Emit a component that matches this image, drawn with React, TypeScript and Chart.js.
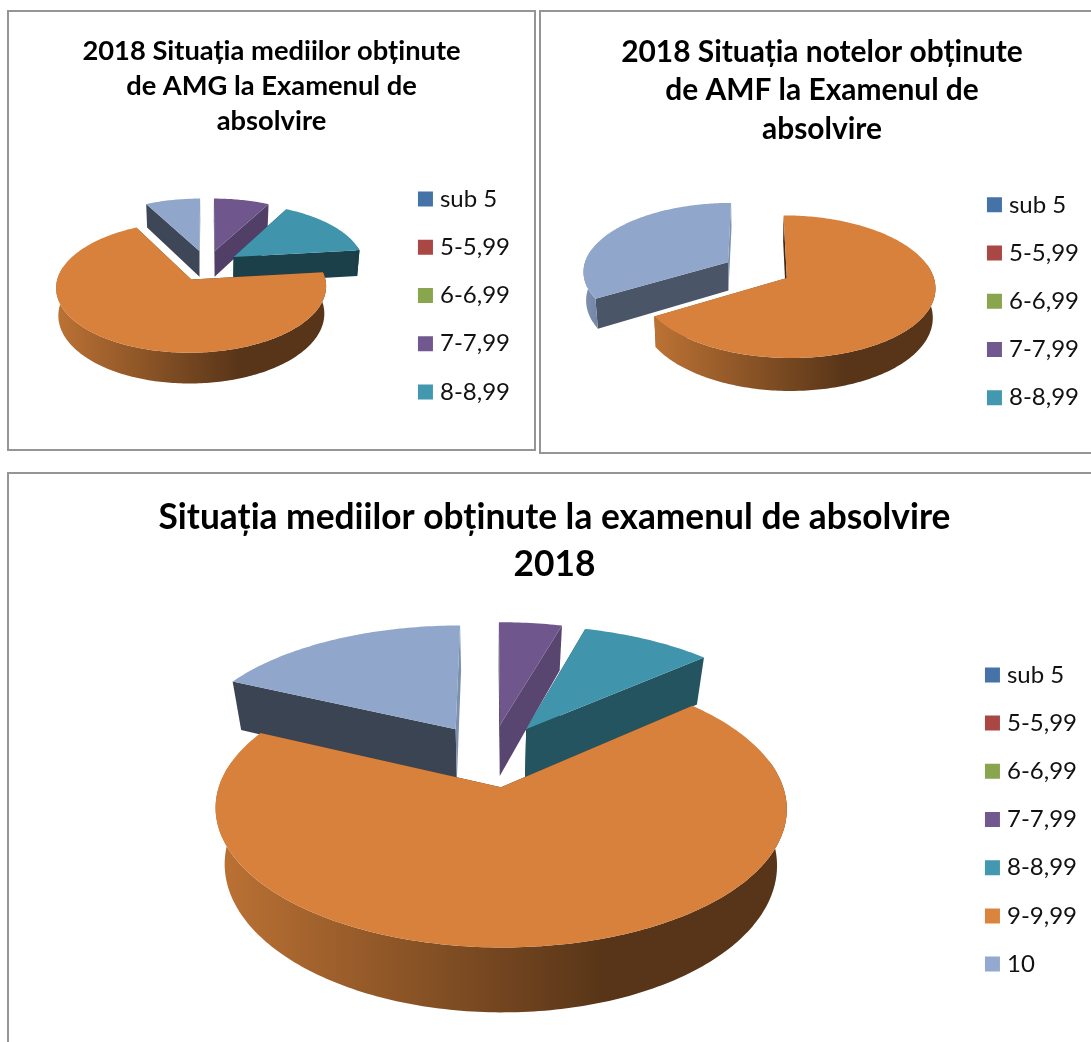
import React, { useEffect, useRef } from "react";
import { Chart, registerables } from "chart.js";

Chart.register(...registerables);

const categories = ["sub 5", "5-5,99", "6-6,99", "7-7,99", "8-8,99", "9-9,99", "10"];
const amgValues = [0, 0, 0, 7.8, 15.4, 69.1, 7.7];
const amfValues = [0, 0, 0, 0, 0, 66.4, 33.6];
const totalValues = [0, 0, 0, 4.4, 9.1, 68.5, 18];
const amgTitle = ["2018 Situația mediilor obținute", "de AMG la Examenul de", "absolvire"];
const amfTitle = ["2018 Situația notelor obținute", "de AMF la Examenul de", "absolvire"];
const totalTitle = ["Situația mediilor obținute la examenul de absolvire", "2018"];
const colors = ["#4572a7", "#aa4643", "#89a54e", "#71588f", "#4198af", "#db843d", "#93a9cf"];

const FONT = "Lato, Carlito, Calibri, sans-serif";

type View = {
  x: number; y: number; w: number; h: number;
  cx: number; cy: number; A: number; B: number; e: number; D: number; shrink: number; explode: number;
  wall: Record<number, [number, number]>;
};

function shade(hex: string, k: number) {
  const n = parseInt(hex.slice(1), 16);
  const c = [(n >> 16) & 255, (n >> 8) & 255, n & 255].map((q) => Math.round(q * k));
  return `rgb(${c[0]},${c[1]},${c[2]})`;
}

function pie3d(view: View) {
  return {
    id: "pie3d",
    beforeDatasetsDraw(chart: any) {
      const ctx: CanvasRenderingContext2D = chart.ctx;
      const arcs: any[] = chart.getDatasetMeta(0).data;
      const pt = (u: number, v: number, h: number): [number, number] => {
        const f = 1 / (1 - view.e * v);
        return [
          view.cx - view.x + view.B * u * f * (1 - view.shrink * h),
          view.cy - view.y + view.A * v * f + view.D * h * f,
        ];
      };
      const poly = (pts: [number, number][]) => {
        ctx.beginPath();
        pts.forEach((p, i) => (i ? ctx.lineTo(p[0], p[1]) : ctx.moveTo(p[0], p[1])));
        ctx.closePath();
      };
      const order = arcs
        .map((arc, index) => ({ arc, index, mid: (arc.startAngle + arc.endAngle) / 2 }))
        .filter((s) => s.arc.endAngle - s.arc.startAngle > 1e-6)
        .sort((a, b) => Math.sin(a.mid) - Math.sin(b.mid));

      ctx.save();
      for (const { arc, index, mid } of order) {
        const base: string = arc.options.backgroundColor;
        const u0 = view.explode * Math.cos(mid);
        const v0 = view.explode * Math.sin(mid);
        const steps = Math.max(8, Math.ceil(((arc.endAngle - arc.startAngle) * 180) / Math.PI));
        const angles: number[] = [];
        for (let i = 0; i <= steps; i++) {
          angles.push(arc.startAngle + ((arc.endAngle - arc.startAngle) * i) / steps);
        }
        const at = (a: number, h: number) => pt(u0 + Math.cos(a), v0 + Math.sin(a), h);
        const topRim = angles.map((a) => at(a, 0));
        const botRim = angles.map((a) => at(a, 1));
        const apexTop = pt(u0, v0, 0);
        const apexBot = pt(u0, v0, 1);
        const xs = topRim.concat([apexTop]).map((p) => p[0]);
        const left = Math.min(...xs);
        const right = Math.max(...xs);

        // the two cut faces
        const [startK, endK] = view.wall[index];
        ctx.fillStyle = shade(base, startK);
        poly([apexTop, topRim[0], botRim[0], apexBot]);
        ctx.fill();
        ctx.fillStyle = shade(base, endK);
        poly([apexTop, topRim[steps], botRim[steps], apexBot]);
        ctx.fill();

        // outer wall on the side that faces the viewer, shaded from left to right
        const seen = angles.filter((a) => Math.sin(a) > -0.2);
        if (seen.length > 1) {
          const grad = ctx.createLinearGradient(left, 0, right, 0);
          grad.addColorStop(0, shade(base, 0.86));
          grad.addColorStop(0.68, shade(base, 0.4));
          grad.addColorStop(1, shade(base, 0.4));
          ctx.fillStyle = grad;
          poly(seen.map((a) => at(a, 0)).concat(seen.slice().reverse().map((a) => at(a, 1))));
          ctx.fill();
        }

        // top face
        ctx.fillStyle = shade(base, 0.98);
        poly([apexTop].concat(topRim));
        ctx.fill();
      }
      ctx.restore();
      return false;
    },
  };
}

type PanelProps = {
  values: number[];
  title: string[];
  view: View;
  legendCount: number;
  titleSize: number;
  titleLine: number;
  titleTop: number;
  titleBottom: number;
  side: number;
  legendBottom: number;
};

function Panel(p: PanelProps) {
  const ref = useRef<HTMLCanvasElement>(null);
  useEffect(() => {
    const chart = new Chart(ref.current as HTMLCanvasElement, {
      type: "pie",
      data: {
        labels: categories,
        datasets: [{ data: p.values, backgroundColor: colors, borderWidth: 0 }],
      },
      plugins: [pie3d(p.view)],
      options: {
        responsive: false,
        animation: false,
        layout: { padding: { top: 0, left: p.side, right: p.side, bottom: p.legendBottom } },
        plugins: {
          tooltip: { enabled: false },
          title: {
            display: true,
            text: p.title,
            color: "#000000",
            font: { family: FONT, size: p.titleSize, weight: "bold", lineHeight: `${p.titleLine}px` },
            padding: { top: p.titleTop, bottom: p.titleBottom },
          },
          legend: {
            display: true,
            position: "right",
            fullSize: false,
            labels: {
              color: "#111111",
              font: { family: FONT, size: 24, lineHeight: 1 },
              usePointStyle: true,
              pointStyle: "rect",
              boxWidth: 5,
              boxHeight: 15,
              padding: 24.2,
              filter: (item: any) => item.index < p.legendCount,
            },
          },
        },
      },
    } as any);
    return () => chart.destroy();
  }, []);
  const v = p.view;
  return (
    <>
      <canvas
        ref={ref}
        width={v.w}
        height={v.h}
        style={{ position: "absolute", left: v.x, top: v.y, width: v.w, height: v.h, display: "block" }}
      />
      <div
        style={{
          position: "absolute",
          left: v.x,
          top: v.y,
          width: v.w,
          height: v.h,
          boxSizing: "border-box",
          border: "2px solid #959595",
        }}
      />
    </>
  );
}

const amgView: View = {
  x: 7, y: 10, w: 529, h: 441,
  cx: 207, cy: 265.5, A: 61.5, B: 130.7, e: 0.114, D: 26.5, shrink: 0.015, explode: 0.25,
  wall: { 3: [0.5, 0.72], 4: [0.4, 0.42], 5: [0.4, 0.4], 6: [0.42, 0.8] },
};
const amfView: View = {
  x: 539, y: 10, w: 566, h: 444,
  cx: 757, cy: 270, A: 68.3, B: 145, e: 0.121, D: 28.5, shrink: 0.015, explode: 0.233,
  wall: { 5: [0.3, 0.6], 6: [0.5, 0.85] },
};
const totalView: View = {
  x: 7, y: 472, w: 1095, h: 620,
  cx: 491, cy: 755, A: 126, B: 272, e: 0.147, D: 53, shrink: 0.033, explode: 0.25,
  wall: { 3: [0.5, 0.78], 4: [0.4, 0.55], 5: [0.4, 0.4], 6: [0.4, 0.85] },
};

export default function App() {
  return (
    <div style={{ position: "absolute", left: 0, top: 0, width: 1091, height: 1042, overflow: "hidden", background: "#fff" }}>
      <Panel values={amgValues} title={amgTitle} view={amgView} legendCount={5} titleSize={27.3} titleLine={35} titleTop={24} titleBottom={1} side={16} legendBottom={0} />
      <Panel values={amfValues} title={amfTitle} view={amfView} legendCount={5} titleSize={29.9} titleLine={38.5} titleTop={23} titleBottom={0} side={16} legendBottom={0} />
      <Panel values={totalValues} title={totalTitle} view={totalView} legendCount={7} titleSize={35.3} titleLine={47} titleTop={22} titleBottom={1} side={15} legendBottom={42} />
    </div>
  );
}
